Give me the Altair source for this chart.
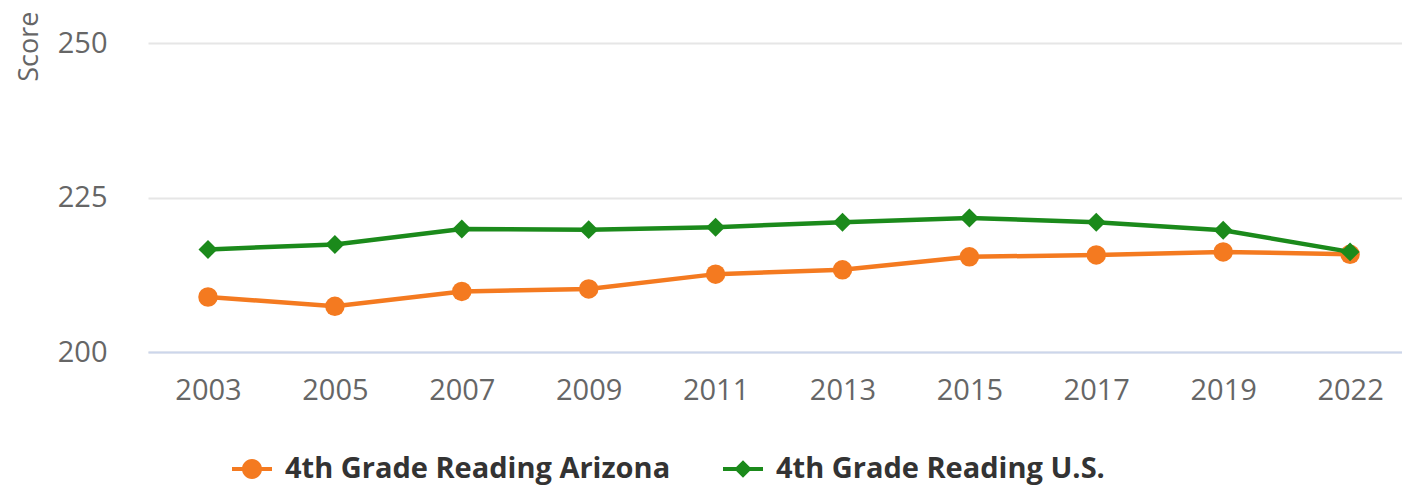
import altair as alt
import pandas as pd

years = ["2003", "2005", "2007", "2009", "2011", "2013", "2015", "2017", "2019", "2022"]
arizona = [208.9, 207.4, 209.8, 210.2, 212.6, 213.3, 215.4, 215.7, 216.2, 215.8]
us = [216.6, 217.4, 219.9, 219.8, 220.2, 221.0, 221.7, 221.0, 219.7, 216.2]
series_names = ["4th Grade Reading Arizona", "4th Grade Reading U.S."]
series_colors = ["#F47A20", "#1B8A1B"]
series_shapes = ["circle", "diamond"]
y_ticks = [200, 225, 250]

rows = []
for name, vals in zip(series_names, [arizona, us]):
    for yr, v in zip(years, vals):
        rows.append({"year": yr, "score": v, "series": name})
df = pd.DataFrame(rows)

# legend symbols: a short line with the marker in its middle (unit coordinates)
legend_paths = [
    "M-1,-0.1H1V0.1H-1Z M0.5,0A0.5,0.5 0 1,1 -0.5,0A0.5,0.5 0 1,1 0.5,0Z",
    "M-1,-0.1H1V0.1H-1Z M0,-0.44L0.44,0L0,0.44L-0.44,0Z",
]

FONT = "Open Sans"

x_enc = alt.X(
    "year:O",
    sort=years,
    scale=alt.Scale(type="point", padding=0.441, align=0.536),
    axis=alt.Axis(
        title=None, labelAngle=0, labelFont=FONT, labelFontSize=29,
        labelColor="#666666", labelPadding=24, ticks=False, tickSize=0,
        domain=True, domainColor="#ccd6eb", domainWidth=2, grid=False,
        labelOverlap=False,
    ),
)
y_enc = alt.Y(
    "score:Q",
    scale=alt.Scale(domain=[200, 250], nice=False, zero=False),
    axis=alt.Axis(
        title="Score", values=y_ticks, grid=True, gridColor="#e6e6e6",
        gridWidth=2, domain=False, ticks=False, tickSize=0, labelPadding=41,
        labelFont=FONT, labelFontSize=29, labelColor="#666666",
        labelFlush=False, labelOverlap=False,
        titleFont=FONT, titleFontSize=27, titleFontWeight="normal",
        titleColor="#666666", titleX=-111, titleY=-32, titleAlign="right",
        titleBaseline="alphabetic", titleAngle=270,
    ),
)

base = alt.Chart(df).encode(x=x_enc, y=y_enc)

legend_props = dict(
    title=None, orient="none", legendX=84, legendY=406, direction="horizontal",
    symbolSize=1600, symbolStrokeWidth=0, symbolOpacity=1,
    labelFont=FONT, labelFontSize=29, labelFontWeight="bold",
    labelColor="#333333", labelOffset=13, columnPadding=52, padding=0,
    labelLimit=800,
)

legend_layer = base.mark_point(filled=True, opacity=0).encode(
    color=alt.Color("series:N", scale=alt.Scale(domain=series_names, range=series_colors),
                    legend=alt.Legend(**legend_props)),
    shape=alt.Shape("series:N", scale=alt.Scale(domain=series_names, range=legend_paths),
                    legend=alt.Legend(**legend_props)),
)

layers = [legend_layer]
for name, col, shp, sz in zip(series_names, series_colors, series_shapes, [380, 360]):
    sub = base.transform_filter(alt.datum.series == name)
    layers.append(sub.mark_line(color=col, strokeWidth=4.5))
    layers.append(sub.mark_point(shape=shp, filled=True, size=sz, color=col, opacity=1))

chart = alt.layer(*layers).properties(
    width=1254,
    height=309,
    padding={"left": 140, "top": 35, "right": 0, "bottom": 134},
    autosize=alt.AutoSizeParams(type="none"),
    background="white",
).configure_view(stroke=None)

chart.save("out.html", embed_options={"renderer": "svg", "actions": False})
